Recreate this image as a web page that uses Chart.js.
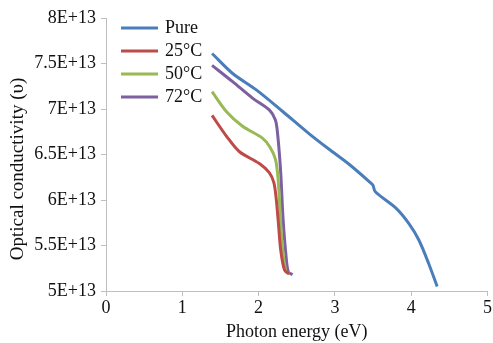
<!DOCTYPE html>
<html>
<head>
<meta charset="utf-8">
<script src="https://cdn.jsdelivr.net/npm/chart.js@4"></script>
<style>
html,body{margin:0;padding:0;background:#fff;}
#wrap{width:493px;height:343px;position:relative;}
</style>
</head>
<body>
<div id="wrap"><canvas id="c" width="493" height="343"></canvas></div>
<script>
// Photon energy (eV) and optical conductivity (in units of 1E+13)
const pureE = [1.39, 1.66, 1.97, 2.32, 2.66, 2.92, 3.19, 3.48, 3.50, 3.53, 3.80, 3.97, 4.10, 4.23, 4.34];
const pureV = [7.61, 7.39, 7.21, 6.97, 6.73, 6.56, 6.39, 6.18, 6.16, 6.09, 5.91, 5.74, 5.56, 5.30, 5.05];

const t25E = [1.39, 1.58, 1.75, 2.01, 2.14, 2.20, 2.23, 2.26, 2.29, 2.34, 2.40];
const t25V = [6.93, 6.70, 6.53, 6.40, 6.30, 6.19, 6.02, 5.74, 5.45, 5.23, 5.19];

const t50E = [1.39, 1.58, 1.79, 2.05, 2.15, 2.22, 2.25, 2.27, 2.29, 2.32, 2.36, 2.40];
const t50V = [7.19, 6.97, 6.81, 6.68, 6.58, 6.45, 6.28, 6.05, 5.74, 5.42, 5.21, 5.19];

const t72E = [1.39, 1.66, 1.92, 2.14, 2.22, 2.25, 2.29, 2.32, 2.36, 2.39, 2.445];
const t72V = [7.48, 7.30, 7.12, 6.99, 6.88, 6.72, 6.30, 5.80, 5.38, 5.21, 5.18];

const seriesLabels = ['Pure', '25°C', '50°C', '72°C'];
const seriesColors = ['#4a7ebb', '#be4b48', '#98b954', '#7d60a0'];

const xTicks = [0, 1, 2, 3, 4, 5];
const yTicks = [5, 5.5, 6, 6.5, 7, 7.5, 8];
const yTitle = 'Optical conductivity (υ)';

function pts(xs, ys){ return xs.map((x,i)=>({x:x, y:ys[i]})); }

const allData = [pts(pureE,pureV), pts(t25E,t25V), pts(t50E,t50V), pts(t72E,t72V)];

const fam = '"Liberation Serif", "Times New Roman", serif';
const font = {family: fam, size: 18};

const legendPlugin = {
  id: 'insideLegend',
  afterDraw(chart){
    const ctx = chart.ctx;
    const left = 121, top = 28, gap = 23, len = 37;
    ctx.save();
    chart.data.datasets.forEach((ds, i) => {
      const y = top + i*gap;
      ctx.strokeStyle = ds.borderColor;
      ctx.lineWidth = 3;
      ctx.beginPath();
      ctx.moveTo(left, y);
      ctx.lineTo(left+len, y);
      ctx.stroke();
      ctx.fillStyle = '#111';
      ctx.font = '18px ' + fam;
      ctx.textBaseline = 'middle';
      ctx.textAlign = 'left';
      ctx.fillText(ds.label, left+len+7, y+0.5);
    });
    // y-axis title
    ctx.translate(18, 169);
    ctx.rotate(-Math.PI/2);
    ctx.font = '19px ' + fam;
    ctx.textAlign = 'center';
    ctx.textBaseline = 'middle';
    ctx.fillStyle = '#111';
    ctx.fillText(yTitle, 0, 0);
    ctx.restore();
  }
};

new Chart(document.getElementById('c'), {
  type: 'line',
  data: {
    datasets: allData.map((d,i)=>({
      label: seriesLabels[i],
      data: d,
      borderColor: seriesColors[i],
      backgroundColor: seriesColors[i],
      borderWidth: 3,
      pointRadius: 0,
      fill: false,
      tension: 0.3
    }))
  },
  options: {
    responsive: false,
    animation: false,
    layout: {padding: {top: 18, right: 4, left: 0, bottom: 0}},
    plugins: {legend: {display: false}, tooltip: {enabled: false}},
    scales: {
      x: {
        type: 'linear',
        min: 0, max: 5,
        afterBuildTicks(scale){ scale.ticks = xTicks.map(v=>({value:v})); },
        afterFit(scale){ scale.height = 52; },
        ticks: {font: font, color: '#111', padding: 1, maxRotation: 0},
        grid: {display: true, drawOnChartArea: false, drawTicks: true, tickLength: 5, color: '#bfbfbf'},
        border: {display: true, color: '#bfbfbf'},
        title: {display: true, text: 'Photon energy (eV)', font: font, color: '#111', padding: {top: 0, bottom: 0}}
      },
      y: {
        type: 'linear',
        min: 5, max: 8,
        afterBuildTicks(scale){ scale.ticks = yTicks.map(v=>({value:v})); },
        afterFit(scale){ scale.width = 106; },
        ticks: {font: font, color: '#111', padding: 5, callback: v => v + 'E+13'},
        grid: {display: true, drawOnChartArea: false, drawTicks: true, tickLength: 5, color: '#bfbfbf'},
        border: {display: true, color: '#bfbfbf'}
      }
    }
  },
  plugins: [legendPlugin]
});
</script>
</body>
</html>
